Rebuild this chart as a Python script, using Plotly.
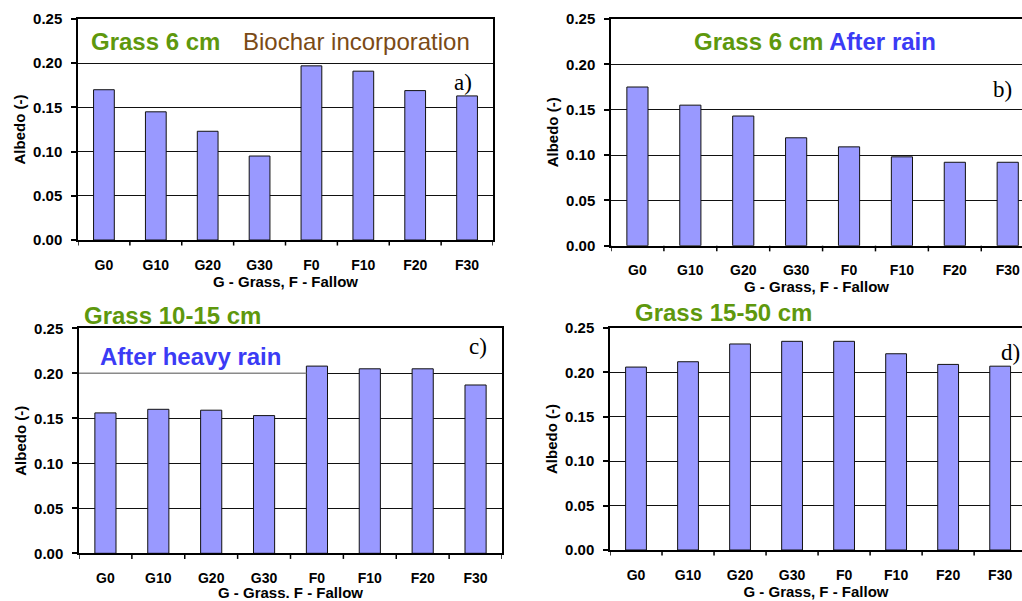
import plotly.graph_objects as go

# Albedo per treatment (G = grass, F = fallow; number = biochar rate)
categories = ["G0", "G10", "G20", "G30", "F0", "F10", "F20", "F30"]
albedo_a = [0.170, 0.145, 0.123, 0.095, 0.197, 0.191, 0.169, 0.163]
albedo_b = [0.175, 0.155, 0.143, 0.119, 0.109, 0.098, 0.092, 0.092]
albedo_c = [0.156, 0.160, 0.159, 0.153, 0.208, 0.205, 0.205, 0.187]
albedo_d = [0.206, 0.212, 0.232, 0.235, 0.235, 0.221, 0.209, 0.207]
y_tick_values = [0.00, 0.05, 0.10, 0.15, 0.20, 0.25]

W, H = 1022, 601
GREEN = "#5e980d"
BROWN = "#7a4a16"
BLUE = "#3b3bf5"
BAR = "#9999ff"
FONT = "Liberation Sans"
SERIF = "Liberation Serif"


def fx(p):
    return p / W


def fy(p):
    return 1 - p / H


# panel layout: values, x-extent (px), y-extent (px), x range end, x title, right border
panels = [
    (albedo_a, (78, 493), (19, 240), 7.5, "G - Grass, F - Fallow", True),
    (albedo_b, (611, 1022), (19, 245.7), 7.27, "G - Grass, F - Fallow", False),
    (albedo_c, (79, 502), (328.3, 553.3), 7.5, "G - Grass. F - Fallow", True),
    (albedo_d, (610, 1022), (328, 550), 7.42, "G - Grass, F - Fallow", False),
]

fig = go.Figure()
layout = {}
for i, (vals, xs, ys, xend, xtitle, closed) in enumerate(panels, start=1):
    sfx = "" if i == 1 else str(i)
    fig.add_trace(go.Bar(
        x=list(range(len(categories))), y=vals,
        width=0.4,
        marker=dict(color=BAR, line=dict(color="#111111", width=1)),
        xaxis="x" + sfx, yaxis="y" + sfx, showlegend=False,
    ))
    layout["xaxis" + sfx] = dict(
        domain=[fx(xs[0]), fx(xs[1])], anchor="y" + sfx,
        range=[-0.5, xend], automargin=False,
        tickmode="array", tickvals=list(range(len(categories))), ticktext=categories,
        showgrid=False, zeroline=False,
        showline=True, linecolor="black", linewidth=1.5, mirror=True,
        ticks="", ticklabelstandoff=11,
        tickfont=dict(family=FONT, size=14, color="black", weight="bold"),
        title=dict(text=xtitle, standoff=0,
                   font=dict(family=FONT, size=15, color="black", weight="bold")),
    )
    layout["yaxis" + sfx] = dict(
        domain=[fy(ys[1]), fy(ys[0])], anchor="x" + sfx,
        range=[0, 0.25], tickvals=y_tick_values, tickformat=".2f", automargin=False,
        showgrid=True, gridcolor="#111111", gridwidth=1, zeroline=False,
        showline=True, linecolor="black", linewidth=1.5, mirror=closed,
        ticks="outside", ticklen=5, tickcolor="black", tickwidth=1.5,
        ticklabelstandoff=6,
        tickfont=dict(family=FONT, size=15, color="black", weight="bold"),
        title=dict(text="Albedo (-)", standoff=4,
                   font=dict(family=FONT, size=15, color="black", weight="bold")),
    )

# tick marks between categories on each x axis
shapes = []
for i, (vals, xs, ys, xend, xtitle, closed) in enumerate(panels, start=1):
    sfx = "" if i == 1 else str(i)
    b = -0.5
    while b <= xend + 1e-9:
        shapes.append(dict(type="line", xref="x" + sfx, yref="y" + sfx + " domain",
                           x0=b, x1=b, y0=0, y1=-0.025,
                           line=dict(color="black", width=1.5)))
        b += 1

# text box edge over the 0.20 gridline in panel c
shapes.append(dict(type="line", xref="x3", yref="y3", x0=-0.5, x1=3.8, y0=0.20, y1=0.20,
                   line=dict(color="#8a8a8a", width=1.5), layer="above"))

title_font = dict(family=FONT, size=24, weight="bold")
annotations = [
    dict(x=fx(89), y=fy(42), text="Grass 6 cm", font=dict(title_font, color=GREEN)),
    dict(x=fx(241), y=fy(42), text="Biochar incorporation",
         font=dict(family=FONT, size=24, color=BROWN)),
    dict(x=fx(692), y=fy(42),
         text="<span style='color:%s'>Grass 6 cm</span> <span style='color:%s'>After rain</span>" % (GREEN, BLUE),
         font=dict(title_font, color=GREEN)),
    dict(x=fx(82), y=fy(315), text="Grass 10-15 cm", font=dict(title_font, color=GREEN)),
    dict(x=fx(98), y=fy(356), text="After heavy rain", font=dict(title_font, color=BLUE)),
    dict(x=fx(633), y=fy(312), text="Grass 15-50 cm", font=dict(title_font, color=GREEN)),
    dict(x=fx(452), y=fy(82), text="a)", font=dict(family=SERIF, size=23, color="black")),
    dict(x=fx(991), y=fy(90), text="b)", font=dict(family=SERIF, size=23, color="black")),
    dict(x=fx(467), y=fy(346), text="c)", font=dict(family=SERIF, size=23, color="black")),
    dict(x=fx(999), y=fy(352), text="d)", font=dict(family=SERIF, size=23, color="black")),
]
for a in annotations:
    a.update(xref="paper", yref="paper", xanchor="left", yanchor="middle", showarrow=False)

fig.update_layout(
    width=W, height=H,
    margin=dict(l=0, r=0, t=0, b=0, autoexpand=False),
    paper_bgcolor="white", plot_bgcolor="white",
    shapes=shapes, annotations=annotations,
    **layout,
)

fig.write_html("out.html")
